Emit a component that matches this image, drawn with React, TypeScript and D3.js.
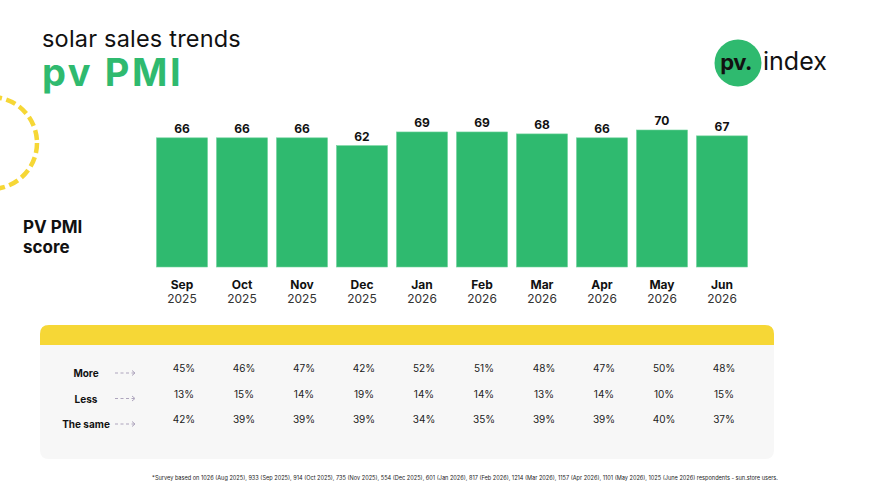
import { useEffect, useRef } from 'react';
import * as d3 from 'd3';

const months = ['Sep', 'Oct', 'Nov', 'Dec', 'Jan', 'Feb', 'Mar', 'Apr', 'May', 'Jun'];
const years = ['2025', '2025', '2025', '2025', '2026', '2026', '2026', '2026', '2026', '2026'];
const pmiScores = [66, 66, 66, 62, 69, 69, 68, 66, 70, 67];
const moreShare = [45, 46, 47, 42, 52, 51, 48, 47, 50, 48];
const lessShare = [13, 15, 14, 19, 14, 14, 13, 14, 10, 15];
const sameShare = [42, 39, 39, 39, 34, 35, 39, 39, 40, 37];
const rowLabels = ['More', 'Less', 'The same'];

const GREEN = '#2fba6f';
const YELLOW = '#f6d736';
const FONT = 'Inter, "Noto Sans", sans-serif';

export default function App() {
  const svgRef = useRef<SVGSVGElement>(null);
  const width = 872;
  const height = 491;

  useEffect(() => {
    if (!svgRef.current) return;
    const svg = d3.select(svgRef.current);
    svg.selectAll('*').remove();

    svg.append('rect').attr('width', width).attr('height', height).attr('fill', '#ffffff');

    // decorative dashed circle
    svg.append('circle')
      .attr('cx', -9)
      .attr('cy', 143)
      .attr('r', 46)
      .attr('fill', 'none')
      .attr('stroke', YELLOW)
      .attr('stroke-width', 4.5)
      .attr('stroke-dasharray', '10,4.5');

    // titles
    svg.append('text')
      .attr('x', 42)
      .attr('y', 47)
      .attr('font-family', FONT)
      .attr('font-size', 23.5)
      .attr('fill', '#111')
      .attr('letter-spacing', 0.2)
      .text('solar sales trends');

    svg.append('text')
      .attr('x', 42)
      .attr('y', 86)
      .attr('font-family', FONT)
      .attr('font-size', 38)
      .attr('font-weight', 700)
      .attr('fill', GREEN)
      .attr('letter-spacing', 2.6)
      .text('pv PMI');

    // logo
    const logo = svg.append('g');
    logo.append('circle').attr('cx', 738).attr('cy', 63).attr('r', 23.5).attr('fill', GREEN);
    logo.append('text')
      .attr('x', 736)
      .attr('y', 70)
      .attr('text-anchor', 'middle')
      .attr('font-family', FONT)
      .attr('font-size', 22)
      .attr('font-weight', 700)
      .attr('fill', '#111')
      .attr('letter-spacing', -0.5)
      .text('pv.');
    logo.append('text')
      .attr('x', 763)
      .attr('y', 70)
      .attr('font-family', FONT)
      .attr('font-size', 25)
      .attr('fill', '#111')
      .text('index');

    // y label
    const yl = svg.append('text')
      .attr('font-family', FONT)
      .attr('font-size', 17)
      .attr('font-weight', 700)
      .attr('fill', '#111');
    yl.append('tspan').attr('x', 23).attr('y', 233).text('PV PMI');
    yl.append('tspan').attr('x', 23).attr('y', 253).text('score');

    // bars
    const xScale = d3.scaleBand()
      .domain(months)
      .range([152, 752])
      .paddingInner(0.15)
      .paddingOuter(0.075);

    const yScale = d3.scaleLinear().domain([0, 70]).range([267, 130]);

    svg.selectAll('.bar')
      .data(pmiScores)
      .enter()
      .append('rect')
      .attr('class', 'bar')
      .attr('x', (d, i) => xScale(months[i]) || 0)
      .attr('width', xScale.bandwidth())
      .attr('y', d => yScale(d))
      .attr('height', d => yScale(0) - yScale(d))
      .attr('fill', GREEN)
      .attr('stroke', '#6fd39c')
      .attr('stroke-width', 0.6);

    const cx = (i: number) => (xScale(months[i]) || 0) + xScale.bandwidth() / 2;

    svg.selectAll('.value')
      .data(pmiScores)
      .enter()
      .append('text')
      .attr('class', 'value')
      .attr('x', (d, i) => cx(i))
      .attr('y', d => yScale(d) - 5)
      .attr('text-anchor', 'middle')
      .attr('font-family', FONT)
      .attr('font-size', 12)
      .attr('font-weight', 700)
      .attr('fill', '#111')
      .text(d => d);

    svg.selectAll('.month')
      .data(months)
      .enter()
      .append('text')
      .attr('x', (d, i) => cx(i))
      .attr('y', 289)
      .attr('text-anchor', 'middle')
      .attr('font-family', FONT)
      .attr('font-size', 12)
      .attr('font-weight', 700)
      .attr('fill', '#111')
      .text(d => d);

    svg.selectAll('.year')
      .data(years)
      .enter()
      .append('text')
      .attr('x', (d, i) => cx(i))
      .attr('y', 303)
      .attr('text-anchor', 'middle')
      .attr('font-family', FONT)
      .attr('font-size', 12)
      .attr('fill', '#333')
      .text(d => d);

    // table panel
    const px = 40, pw = 734, py = 325, ph = 134, r = 9;
    svg.append('path')
      .attr('d', `M${px},${py + r} Q${px},${py} ${px + r},${py} H${px + pw - r} Q${px + pw},${py} ${px + pw},${py + r} V${py + ph - r} Q${px + pw},${py + ph} ${px + pw - r},${py + ph} H${px + r} Q${px},${py + ph} ${px},${py + ph - r} Z`)
      .attr('fill', '#f7f7f7');
    svg.append('path')
      .attr('d', `M${px},${py + r} Q${px},${py} ${px + r},${py} H${px + pw - r} Q${px + pw},${py} ${px + pw},${py + r} V${py + 20} H${px} Z`)
      .attr('fill', YELLOW);

    const rows = [moreShare, lessShare, sameShare];
    const rowY = d3.scalePoint<string>().domain(rowLabels).range([373, 424]);

    rowLabels.forEach((label, ri) => {
      const y = rowY(label) || 0;
      svg.append('text')
        .attr('x', 86)
        .attr('y', y + 4)
        .attr('text-anchor', 'middle')
        .attr('font-family', FONT)
        .attr('font-size', 10)
        .attr('font-weight', 700)
        .attr('fill', '#111')
        .text(label);

      svg.append('line')
        .attr('x1', 115)
        .attr('x2', 134)
        .attr('y1', y)
        .attr('y2', y)
        .attr('stroke', '#a59bb5')
        .attr('stroke-width', 0.9)
        .attr('stroke-dasharray', '3,2.5');
      svg.append('path')
        .attr('d', `M${132},${y - 2.5} L${135},${y} L${132},${y + 2.5}`)
        .attr('fill', 'none')
        .attr('stroke', '#a59bb5')
        .attr('stroke-width', 0.9);

      svg.selectAll(`.cell-${ri}`)
        .data(rows[ri])
        .enter()
        .append('text')
        .attr('x', (d, i) => cx(i) + 2)
        .attr('y', y - 1)
        .attr('text-anchor', 'middle')
        .attr('font-family', FONT)
        .attr('font-size', 10)
        .attr('fill', '#222')
        .text(d => `${d}%`);
    });

    svg.append('text')
      .attr('x', 465)
      .attr('y', 480)
      .attr('text-anchor', 'middle')
      .attr('font-family', FONT)
      .attr('font-size', 5.6)
      .attr('fill', '#222')
      .text('*Survey based on 1026 (Aug 2025), 933 (Sep 2025), 914 (Oct 2025), 735 (Nov 2025), 554 (Dec 2025), 601 (Jan 2026), 817 (Feb 2026), 1214 (Mar 2026), 1157 (Apr 2026), 1101 (May 2026), 1025 (June 2026) respondents - sun.store users.');
  }, []);

  return (
    <svg
      ref={svgRef}
      width={width}
      height={height}
      style={{ position: 'absolute', left: 0, top: 0, display: 'block' }}
    />
  );
}
